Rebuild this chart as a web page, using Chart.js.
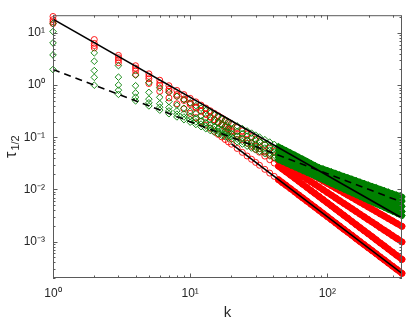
<!DOCTYPE html>
<html>
<head>
<meta charset="utf-8">
<script src="https://cdn.jsdelivr.net/npm/chart.js@4/dist/chart.umd.min.js"></script>
<style>html,body{margin:0;padding:0;background:#fff}canvas{display:block}</style>
</head>
<body>
<canvas id="c" width="410" height="328"></canvas>
<script>
// ---- data ----
const kValues = [1,2,3,4,5,6,7,8,9,10,11,12,13,14,15,16,17,18,19,20,22,24,26,28,30,32,35,38,41,44,47,50,54,58,62,66,71,76,81,87,93,100,107,115,123,132,141,151,162,173,185,198,212,227,243,260,278,298,319,350];

const redSeries1 = [20.8,7.51,3.73,2.36,1.65,1.245,0.977,0.793,0.660,0.559,
 0.479,0.415,0.364,0.323,0.288,0.259,0.235,0.214,0.196,0.180,
 0.154,0.133,0.116,0.103,0.0917,0.0823,0.0710,0.0618,
 0.0545,0.0486,0.0437,0.0396,0.0350,0.0312,0.0279,0.0252,0.0224,0.0200,0.0181,
 0.0162,0.0146,0.0131,0.0118,0.01055,0.00953,0.00857,0.00777,0.00699,0.00628,0.00569,0.00515,0.00464,0.00419,0.00377,0.00339,0.00307,0.00277,0.00250,0.00225,0.00196];
const redSeries2 = [16.5,5.75,3.03,1.90,1.33,0.986,0.765,0.615,0.508,0.427,
 0.365,0.315,0.275,0.244,0.217,0.195,0.176,0.160,0.146,0.134,
 0.1145,0.0988,0.0862,0.0761,0.0677,0.0607,0.0522,0.0453,
 0.0399,0.0354,0.0317,0.0285,0.0251,0.0222,0.0198,0.0178,0.0157,0.0140,0.0126,
 0.01115,0.00991,0.00873,0.00777,0.00684,0.00608,0.00538,0.00481,0.00426,0.00377,0.00336,0.00299,0.00266,0.00236,0.00210,0.00185,0.00165,0.00147,0.00130,0.00116,0.000984];
const redSeries3 = [18.1,6.33,3.36,2.12,1.48,1.084,0.833,0.663,0.543,0.453,
 0.382,0.325,0.280,0.245,0.216,0.192,0.172,0.155,0.140,0.128,
 0.1065,0.0901,0.0772,0.0670,0.0587,0.0518,0.0436,0.0372,
 0.0321,0.0279,0.0246,0.0218,0.0187,0.0163,0.0143,0.0126,0.0109,0.00952,0.00842,
 0.00731,0.00640,0.00553,0.00484,0.00418,0.00366,0.00318,0.00280,0.00243,0.00211,0.00185,0.00162,0.00142,0.00124,0.00108,0.000939,0.000824,0.000720,0.000628,0.000547,0.000455];
const redSeries4 = [15.2,5.20,2.70,1.61,1.076,0.761,0.568,0.440,0.352,0.288,
 0.239,0.201,0.172,0.149,0.130,0.114,0.1016,0.0907,0.0815,0.0738,
 0.0611,0.0514,0.0438,0.0379,0.0330,0.0291,0.0243,0.0206,
 0.0178,0.0154,0.0135,0.0120,0.0103,0.00893,0.00780,0.00689,0.00596,0.00519,0.00458,
 0.00397,0.00347,0.00300,0.00262,0.00227,0.00198,0.00172,0.00151,0.00132,0.00114,0.00100,0.000878,0.000765,0.000669,0.000583,0.000507,0.000444,0.000388,0.000338,0.000295,0.000245];

const greenSeries1 = [15.2,4.17,2.37,1.56,1.127,0.890,0.729,0.612,0.526,0.458,
 0.405,0.362,0.326,0.296,0.271,0.249,0.230,0.2135,0.199,0.186,
 0.1646,0.147,0.1323,0.1203,0.110,0.1011,0.0901,0.0808,
 0.0731,0.0665,0.0608,0.0559,0.0504,0.0457,0.0417,0.0383,0.0347,0.0316,0.0290,
 0.0264,0.0248,0.0232,0.0218,0.0203,0.0191,0.0179,0.0168,0.0158,0.0148,0.0139,0.0131,0.0122,0.0115,0.0108,0.0101,0.00950,0.00892,0.00836,0.00784,0.00719];
const greenSeries2 = [10.7,2.88,1.426,0.976,0.728,0.585,0.486,0.414,0.360,0.317,
 0.285,0.258,0.235,0.2166,0.200,0.186,0.1738,0.1628,0.1531,0.1445,
 0.129,0.1162,0.1055,0.0966,0.0889,0.0823,0.0739,0.0669,
 0.0610,0.0559,0.0516,0.0477,0.0434,0.0398,0.0366,0.0338,0.0309,0.0284,0.0262,
 0.0241,0.0225,0.0209,0.0196,0.0182,0.0170,0.0159,0.0149,0.0139,0.0129,0.0121,0.0113,0.01058,0.00989,0.00923,0.00860,0.00805,0.00753,0.00703,0.00657,0.00598];
const greenSeries3 = [6.47,1.905,1.009,0.709,0.540,0.442,0.373,0.322,0.283,0.252,
 0.227,0.206,0.1887,0.1740,0.1612,0.1502,0.1405,0.1319,0.1242,0.1175,
 0.1055,0.0956,0.0873,0.0803,0.0742,0.0690,0.0624,0.0567,
 0.0520,0.0477,0.0441,0.0409,0.0373,0.0342,0.0315,0.0292,0.0268,0.0246,0.0228,
 0.0210,0.0195,0.0181,0.0168,0.01555,0.01447,0.01343,0.01253,0.01163,0.01080,0.01006,0.00938,0.00872,0.00811,0.00754,0.00700,0.00653,0.00607,0.00564,0.00524,0.00475];
const greenSeries4 = [3.81,1.413,0.802,0.586,0.459,0.378,0.321,0.278,0.2455,0.219,
 0.1977,0.1795,0.1643,0.1515,0.1404,0.1308,0.1224,0.1149,0.1082,0.1023,
 0.0919,0.0832,0.0760,0.0699,0.0646,0.0601,0.0543,0.0494,
 0.0453,0.0416,0.0384,0.0356,0.0325,0.0298,0.0275,0.0254,0.0233,0.0214,0.0199,
 0.0182,0.0169,0.01557,0.01443,0.01328,0.01231,0.01137,0.01057,0.00977,0.00902,0.00837,0.00777,0.00719,0.00666,0.00617,0.00569,0.00528,0.00490,0.00453,0.00419,0.00378];
const greenSeries5 = [2.0,1.0,0.667,0.500,0.400,0.332,0.283,0.246,0.218,0.1954,
 0.1762,0.160,0.1464,0.1350,0.1252,0.1166,0.1091,0.1024,0.0964,0.0912,
 0.0819,0.0742,0.0677,0.0623,0.0576,0.0536,0.0484,0.0440,
 0.0404,0.0371,0.0344,0.0320,0.0292,0.0269,0.0248,0.0230,0.0211,0.0195,0.0181,
 0.01663,0.01534,0.01406,0.01297,0.01189,0.01097,0.01009,0.00934,0.00858,0.00789,0.00729,0.00674,0.00621,0.00573,0.00528,0.00485,0.00448,0.00414,0.00381,0.00351,0.00314];

const upperLineK = [1, 350];
const upperLineTau = [18.5, 0.00283];
const dashedLineK = [1, 350];
const dashedLineTau = [2.0, 0.00571];
const lowerLineK = [20, 350];
const lowerLineTau = [0.075, 0.000245];

const xTickValues = [1, 10, 100];
const xTickLabels = ['10\u2070', '10\u00B9', '10\u00B2'];
const yTickValues = [0.001, 0.01, 0.1, 1, 10];
const yTickLabels = ['10\u207B\u00B3', '10\u207B\u00B2', '10\u207B\u00B9', '10\u2070', '10\u00B9'];
const xAxisTitle = 'k';
const yAxisSymbol = '\u03C4';
const yAxisSubscript = '1/2';

// ---- styling ----
const FONT = '"Liberation Sans", Arial, Helvetica, sans-serif';
const TEXT = '#262626';
const AXIS = '#5a5a5a';
const RED = 'rgb(255,0,0)';
const GREEN = 'rgb(0,128,0)';
const DENSE_FROM = 44;   // where the markers merge into a continuous band

function pts(xs, ys) { return xs.map((x, i) => ({ x: x, y: ys[i] })); }
function findTick(v, list) {
  return list.findIndex(t => Math.abs(Math.log10(v) - Math.log10(t)) < 1e-6);
}
function markerSet(arr, color, style, radius, bandWidth, order) {
  return {
    data: pts(kValues, arr),
    showLine: true,
    borderColor: 'rgba(0,0,0,0)',
    borderWidth: bandWidth,
    borderCapStyle: 'round',
    borderJoinStyle: 'round',
    segment: {
      borderColor: ctx => (kValues[ctx.p0DataIndex] >= DENSE_FROM) ? color : 'rgba(0,0,0,0)'
    },
    pointStyle: style,
    pointRadius: radius,
    pointHoverRadius: radius,
    pointBorderColor: color,
    pointBorderWidth: 0.9,
    pointBackgroundColor: ctx => (ctx.raw && ctx.raw.x >= DENSE_FROM) ? color : 'rgba(0,0,0,0)',
    order: order,
    clip: false
  };
}
function lineSet(xs, ys, dash, order) {
  return {
    data: pts(xs, ys),
    showLine: true,
    borderColor: '#000',
    borderWidth: 1.6,
    borderDash: dash,
    pointRadius: 0,
    pointHoverRadius: 0,
    fill: false,
    order: order
  };
}

const frame = {
  id: 'frame',
  afterDatasetsDraw(chart) {
    const { ctx, chartArea: a } = chart;
    const xs = chart.scales.x, ys = chart.scales.y;
    ctx.save();
    ctx.strokeStyle = AXIS;
    ctx.lineWidth = 1;
    ctx.strokeRect(a.left + 0.5, a.top + 0.5, a.right - a.left - 1, a.bottom - a.top - 1);
    const dec = (min, max) => {
      const out = [];
      for (let e = Math.floor(Math.log10(min)); e <= Math.ceil(Math.log10(max)); e++) {
        for (let d = 1; d <= 9; d++) {
          const v = d * Math.pow(10, e);
          if (v >= min * 0.9999 && v <= max * 1.0001) out.push({ v: v, major: d === 1 });
        }
      }
      return out;
    };
    ctx.beginPath();
    dec(xs.min, xs.max).forEach(t => {
      const px = Math.round(xs.getPixelForValue(t.v)) + 0.5;
      const L = t.major ? 4.5 : 2.5;
      ctx.moveTo(px, a.bottom); ctx.lineTo(px, a.bottom - L);
      ctx.moveTo(px, a.top); ctx.lineTo(px, a.top + L);
    });
    dec(ys.min, ys.max).forEach(t => {
      const py = Math.round(ys.getPixelForValue(t.v)) + 0.5;
      const L = t.major ? 4.5 : 2.5;
      ctx.moveTo(a.left, py); ctx.lineTo(a.left + L, py);
      ctx.moveTo(a.right, py); ctx.lineTo(a.right - L, py);
    });
    ctx.stroke();
    ctx.restore();
  },
  afterDraw(chart) {
    const { ctx, chartArea: a } = chart;
    ctx.save();
    ctx.fillStyle = TEXT;
    ctx.font = '15px ' + FONT;
    ctx.textAlign = 'center';
    ctx.textBaseline = 'alphabetic';
    ctx.fillText(xAxisTitle, (a.left + a.right) / 2, 317);
    ctx.translate(16, (a.top + a.bottom) / 2);
    ctx.rotate(-Math.PI / 2);
    ctx.textAlign = 'left';
    ctx.font = '16px ' + FONT;
    const w1 = ctx.measureText(yAxisSymbol).width;
    ctx.font = '11px ' + FONT;
    const w2 = ctx.measureText(yAxisSubscript).width;
    const start = -(w1 + w2 + 1) / 2;
    ctx.font = '16px ' + FONT;
    ctx.fillText(yAxisSymbol, start, 0);
    ctx.font = '11px ' + FONT;
    ctx.fillText(yAxisSubscript, start + w1 + 1, 2.5);
    ctx.restore();
  }
};

Chart.defaults.font.family = FONT;
Chart.defaults.color = TEXT;

new Chart(document.getElementById('c'), {
  type: 'scatter',
  data: {
    datasets: [
      markerSet(redSeries1, RED, 'circle', 3, 6.5, 15),
      markerSet(redSeries2, RED, 'circle', 3, 6.5, 14),
      markerSet(redSeries3, RED, 'circle', 3, 6.5, 13),
      markerSet(redSeries4, RED, 'circle', 3, 6.5, 12),
      markerSet(greenSeries1, GREEN, 'rectRot', 3.3, 6, 10),
      markerSet(greenSeries2, GREEN, 'rectRot', 3.3, 6, 9),
      markerSet(greenSeries3, GREEN, 'rectRot', 3.3, 6, 8),
      markerSet(greenSeries4, GREEN, 'rectRot', 3.3, 6, 7),
      markerSet(greenSeries5, GREEN, 'rectRot', 3.3, 6, 6),
      lineSet(upperLineK, upperLineTau, [], 3),
      lineSet(lowerLineK, lowerLineTau, [], 2),
      lineSet(dashedLineK, dashedLineTau, [7, 5], 1)
    ]
  },
  options: {
    responsive: false,
    animation: false,
    devicePixelRatio: 1,
    layout: { padding: { left: 0, right: 6, top: 8, bottom: 0 } },
    plugins: { legend: { display: false }, tooltip: { enabled: false } },
    events: [],
    scales: {
      x: {
        type: 'logarithmic',
        min: 1, max: 350,
        grid: { display: false, drawTicks: false },
        border: { display: false },
        afterFit: s => { s.height = 50; },
        ticks: {
          autoSkip: false, maxRotation: 0, padding: 8,
          font: { size: 12 }, color: TEXT,
          callback: v => { const i = findTick(v, xTickValues); return i >= 0 ? xTickLabels[i] : ''; }
        }
      },
      y: {
        type: 'logarithmic',
        min: 0.0002, max: 22,
        grid: { display: false, drawTicks: false },
        border: { display: false },
        afterFit: s => { s.width = 53; },
        ticks: {
          autoSkip: false, padding: 8,
          font: { size: 12 }, color: TEXT,
          callback: v => { const i = findTick(v, yTickValues); return i >= 0 ? yTickLabels[i] : ''; }
        }
      }
    }
  },
  plugins: [frame]
});
</script>
</body>
</html>
